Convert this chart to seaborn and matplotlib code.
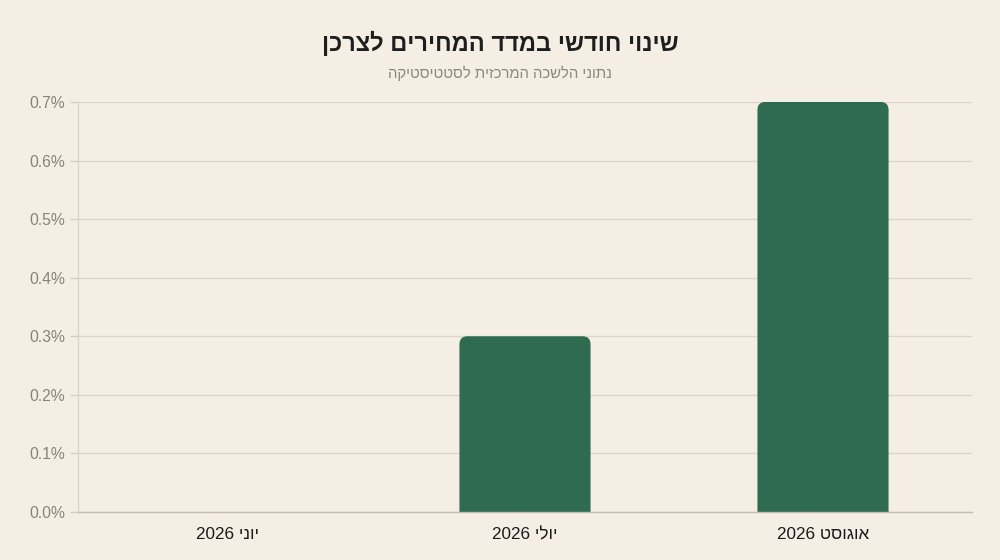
import matplotlib
matplotlib.use("Agg")
import matplotlib.pyplot as plt
import seaborn as sns
import pandas as pd
from matplotlib.patches import PathPatch
from matplotlib.path import Path
from matplotlib.ticker import FuncFormatter


def vis(s):
    # matplotlib has no bidi: put Hebrew words into visual order
    words = s.split(" ")
    out = []
    for w in reversed(words):
        if any("\u0590" <= c <= "\u05ff" for c in w):
            out.append(w[::-1])
        else:
            out.append(w)
    return " ".join(out)


months = ["יוני 2026", "יולי 2026", "אוגוסט 2026"]
change = [0.0, 0.3, 0.7]
y_ticks = [0.0, 0.1, 0.2, 0.3, 0.4, 0.5, 0.6, 0.7]

title = "שינוי חודשי במדד המחירים לצרכן"
subtitle = "נתוני הלשכה המרכזית לסטטיסטיקה"

bg = "#f5eee5"
bar_color = "#2e6b50"

sns.set_theme(style="white")
plt.rcParams["font.family"] = ["Liberation Sans", "DejaVu Sans"]

df = pd.DataFrame({"month": [vis(m) for m in months], "change": change})

fig = plt.figure(figsize=(10, 5.6), dpi=100, facecolor=bg)
ax = fig.add_axes([0.078, 0.0857, 0.894, 0.7323])
ax.set_facecolor(bg)

sns.barplot(data=df, x="month", y="change", color=bar_color, width=0.44,
            saturation=1, ax=ax, zorder=3)

ax.set_ylim(0, 0.7)
ax.set_xlim(-0.5, 2.5)

# rounded top corners only
px_x = 894 / 3.0
px_y = 410 / 0.7
rx = 8 / px_x
ry = 8 / px_y
for p in list(ax.patches):
    x, w, h = p.get_x(), p.get_width(), p.get_height()
    p.set_visible(False)
    if h <= 0:
        continue
    verts = [(x, 0), (x, h - ry), (x, h), (x + rx, h), (x + w - rx, h),
             (x + w, h), (x + w, h - ry), (x + w, 0), (x, 0)]
    codes = [Path.MOVETO, Path.LINETO, Path.CURVE3, Path.CURVE3, Path.LINETO,
             Path.CURVE3, Path.CURVE3, Path.LINETO, Path.CLOSEPOLY]
    ax.add_patch(PathPatch(Path(verts, codes), facecolor=bar_color,
                           edgecolor="none", zorder=3))

ax.set_yticks(y_ticks)
ax.yaxis.set_major_formatter(FuncFormatter(lambda v, _: f"{v:.1f}%"))
ax.grid(axis="y", color="#ddd5ca", linewidth=1, zorder=0)
ax.set_axisbelow(True)

ax.tick_params(axis="y", length=6, width=1, color="#d6cec3",
               labelcolor="#8a8275", labelsize=11.3, pad=3, left=True)
ax.tick_params(axis="x", length=0, labelcolor="#1a1a1a", labelsize=12.3, pad=11)

ax.set_xlabel("")
ax.set_ylabel("")

for s in ["top", "right"]:
    ax.spines[s].set_visible(False)
ax.spines["left"].set_color("#ddd5ca")
ax.spines["left"].set_linewidth(1)
ax.spines["bottom"].set_color("#c6bdb0")
ax.spines["bottom"].set_linewidth(1)
ax.spines["bottom"].set_zorder(4)

fig.text(0.5, 0.923, vis(title), ha="center", va="center",
         fontsize=17, fontweight="bold", color="#1e1e1e")
fig.text(0.5, 0.869, vis(subtitle), ha="center", va="center",
         fontsize=10.7, color="#8f877c")

fig.savefig("out.png", dpi=100, facecolor=bg)
